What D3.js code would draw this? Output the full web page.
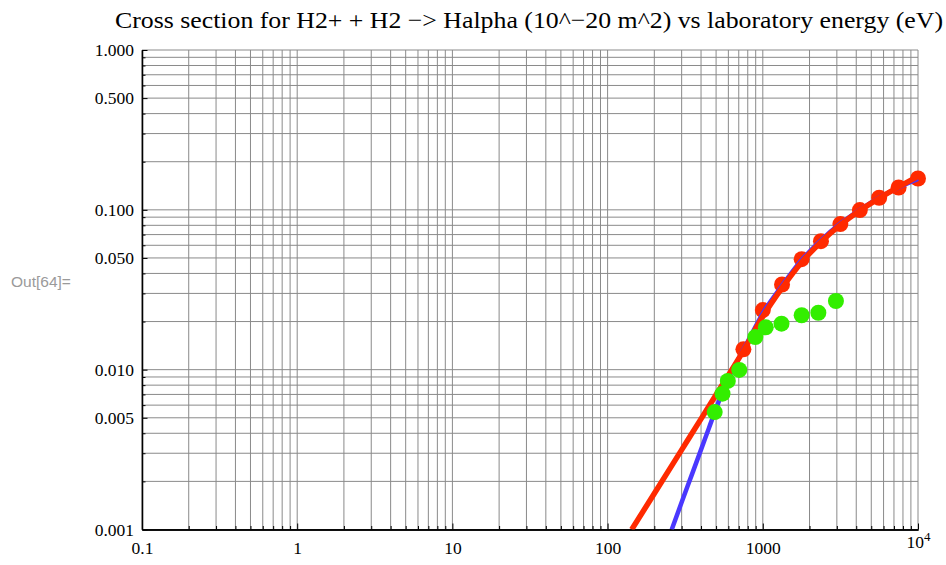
<!DOCTYPE html>
<html>
<head>
<meta charset="utf-8">
<script src="https://cdn.jsdelivr.net/npm/d3@7"></script>
<style>
  html, body { margin: 0; padding: 0; background: #fff; }
  svg { display: block; }
</style>
</head>
<body>
<svg id="chart" width="946" height="565"></svg>
<script>
// ---- data ----
const titleText = "Cross section for H2+ + H2 \u2212> Halpha (10^\u221220 m^2) vs laboratory energy (eV)";
const xTickValues = [0.1, 1, 10, 100, 1000, 10000];
const xTickLabels = ["0.1", "1", "10", "100", "1000", "10^4"];
const yTickValues = [1, 0.5, 0.1, 0.05, 0.01, 0.005, 0.001];
const yTickLabels = ["1.000", "0.500", "0.100", "0.050", "0.010", "0.005", "0.001"];

// measured points (red)
const redEnergy = [750, 1000, 1330, 1780, 2370, 3160, 4220, 5620, 7500, 10000];
const redSigma  = [0.0134, 0.0236, 0.0341, 0.0491, 0.0637, 0.0814, 0.0996, 0.119, 0.138, 0.157];
// measured points (green)
const greenEnergy = [490, 550, 595, 705, 895, 1045, 1320, 1780, 2280, 2960];
const greenSigma  = [0.00543, 0.00708, 0.0085, 0.00996, 0.0160, 0.0184, 0.0194, 0.0219, 0.0227, 0.0269];
// fit curve (red)
const redFitEnergy = [143, 200, 300, 400, 500, 600, 750, 1000, 1330, 1780, 2370, 3160, 4220, 5620, 7500, 10000];
const redFitSigma  = [0.001, 0.00168, 0.00315, 0.00492, 0.00696, 0.00923, 0.0131, 0.0215, 0.0325, 0.047, 0.063, 0.0805, 0.099, 0.118, 0.139, 0.162];
// fit curve (blue)
const blueFitEnergy = [259, 300, 350, 400, 450, 500, 600, 700, 800, 1000, 1330, 1780, 2370, 3160, 4220, 5620, 7500, 10000];
const blueFitSigma  = [0.001, 0.00148, 0.00222, 0.00316, 0.00432, 0.00571, 0.0088, 0.0118, 0.0150, 0.0225, 0.0335, 0.0485, 0.0645, 0.082, 0.100, 0.119, 0.138, 0.156];

// ---- layout ----
const svg = d3.select("#chart");
const x = d3.scaleLog().domain([0.1, 10000]).range([142, 918]);
const y = d3.scaleLog().domain([0.001, 1]).range([529.5, 50]);

const gridColor = "#8a8a8a";
const C_RED = "#ff2a00", C_GREEN = "#33ee00", C_BLUE = "#4a38ff";

// grid values
const xGrid = [];
for (let e = -1; e <= 3; e++) for (let k = 1; k <= 9; k++) xGrid.push(k * Math.pow(10, e));
xGrid.push(10000);
const yGrid = [];
for (let e = -3; e <= -1; e++) for (let k = 1; k <= 9; k++) yGrid.push(k * Math.pow(10, e));
yGrid.push(1);

const grid = svg.append("g");
grid.selectAll("line.gx").data(xGrid).join("line")
  .attr("x1", d => x(d)).attr("x2", d => x(d))
  .attr("y1", y(1)).attr("y2", y(0.001))
  .attr("stroke", gridColor).attr("stroke-width", 1);
grid.selectAll("line.gy").data(yGrid).join("line")
  .attr("y1", d => y(d)).attr("y2", d => y(d))
  .attr("x1", x(0.1)).attr("x2", x(10000))
  .attr("stroke", gridColor).attr("stroke-width", 1);

// axes
const fontSerif = "'Liberation Serif', 'Times New Roman', serif";
const xMinor = xGrid.filter(v => !xTickValues.some(t => Math.abs(t - v) / t < 1e-9));
const yMinor = yGrid.filter(v => !yTickValues.some(t => Math.abs(t - v) / t < 1e-9));

const axX = svg.append("g").attr("transform", `translate(0,${y(0.001)})`);
axX.call(d3.axisBottom(x).tickValues(xMinor).tickSizeInner(-3.5).tickSizeOuter(0).tickFormat(""));
const axXMaj = svg.append("g").attr("transform", `translate(0,${y(0.001)})`);
axXMaj.call(d3.axisBottom(x).tickValues(xTickValues).tickSizeInner(-6).tickSizeOuter(0).tickPadding(12)
  .tickFormat((d, i) => xTickLabels[i]));

const axY = svg.append("g").attr("transform", `translate(${x(0.1)},0)`);
axY.call(d3.axisLeft(y).tickValues(yMinor).tickSizeInner(-3.5).tickSizeOuter(0).tickFormat(""));
const axYMaj = svg.append("g").attr("transform", `translate(${x(0.1)},0)`);
axYMaj.call(d3.axisLeft(y).tickValues(yTickValues).tickSizeInner(-5.5).tickSizeOuter(0).tickPadding(8)
  .tickFormat((d, i) => yTickLabels[i]));

svg.selectAll(".domain").attr("stroke", "#000").attr("stroke-width", 1.3);
svg.selectAll(".tick line").attr("stroke", "#000").attr("stroke-width", 1);
svg.selectAll(".tick text").attr("font-family", fontSerif).attr("font-size", 17.5).attr("fill", "#000");

// superscript for 10^4
axXMaj.selectAll(".tick text").each(function (d, i) {
  const lab = xTickLabels[i];
  if (lab.includes("^")) {
    const [b, p] = lab.split("^");
    const t = d3.select(this).text("").attr("dy", "0.35em");
    t.append("tspan").text(b);
    t.append("tspan").text(p).attr("dy", "-0.5em").attr("font-size", 13);
  }
});

// curves
svg.append("clipPath").attr("id", "plotclip").append("rect")
  .attr("x", x(0.1)).attr("y", y(1) - 20).attr("width", x(10000) - x(0.1) + 20).attr("height", y(0.001) - y(1) + 20);

const line = d3.line().x(d => x(d[0])).y(d => y(d[1])).curve(d3.curveMonotoneX);
const plot = svg.append("g");

plot.selectAll("circle.red").data(redEnergy.map((e, i) => [e, redSigma[i]])).join("circle")
  .attr("cx", d => x(d[0])).attr("cy", d => y(d[1])).attr("r", 8).attr("fill", C_RED);

plot.append("path").datum(blueFitEnergy.map((e, i) => [e, blueFitSigma[i]]))
  .attr("d", line).attr("fill", "none").attr("stroke", C_BLUE).attr("stroke-width", 4.5)
  .attr("clip-path", "url(#plotclip)");
plot.append("path").datum(redFitEnergy.map((e, i) => [e, redFitSigma[i]]))
  .attr("d", line).attr("fill", "none").attr("stroke", C_RED).attr("stroke-width", 5.5)
  .attr("clip-path", "url(#plotclip)");

plot.selectAll("circle.green").data(greenEnergy.map((e, i) => [e, greenSigma[i]])).join("circle")
  .attr("cx", d => x(d[0])).attr("cy", d => y(d[1])).attr("r", 8).attr("fill", C_GREEN);

// title
svg.append("text").attr("x", 529).attr("y", 28).attr("text-anchor", "middle")
  .attr("font-family", fontSerif).attr("font-size", 24).attr("fill", "#000")
  .attr("textLength", 828).attr("lengthAdjust", "spacingAndGlyphs")
  .text(titleText);

// Out label
svg.append("text").attr("x", 11).attr("y", 283).attr("dominant-baseline", "middle")
  .attr("font-family", "'Liberation Sans', Arial, sans-serif").attr("font-size", 15.5).attr("fill", "#9a9a9a")
  .text("Out[64]=");
</script>
</body>
</html>
